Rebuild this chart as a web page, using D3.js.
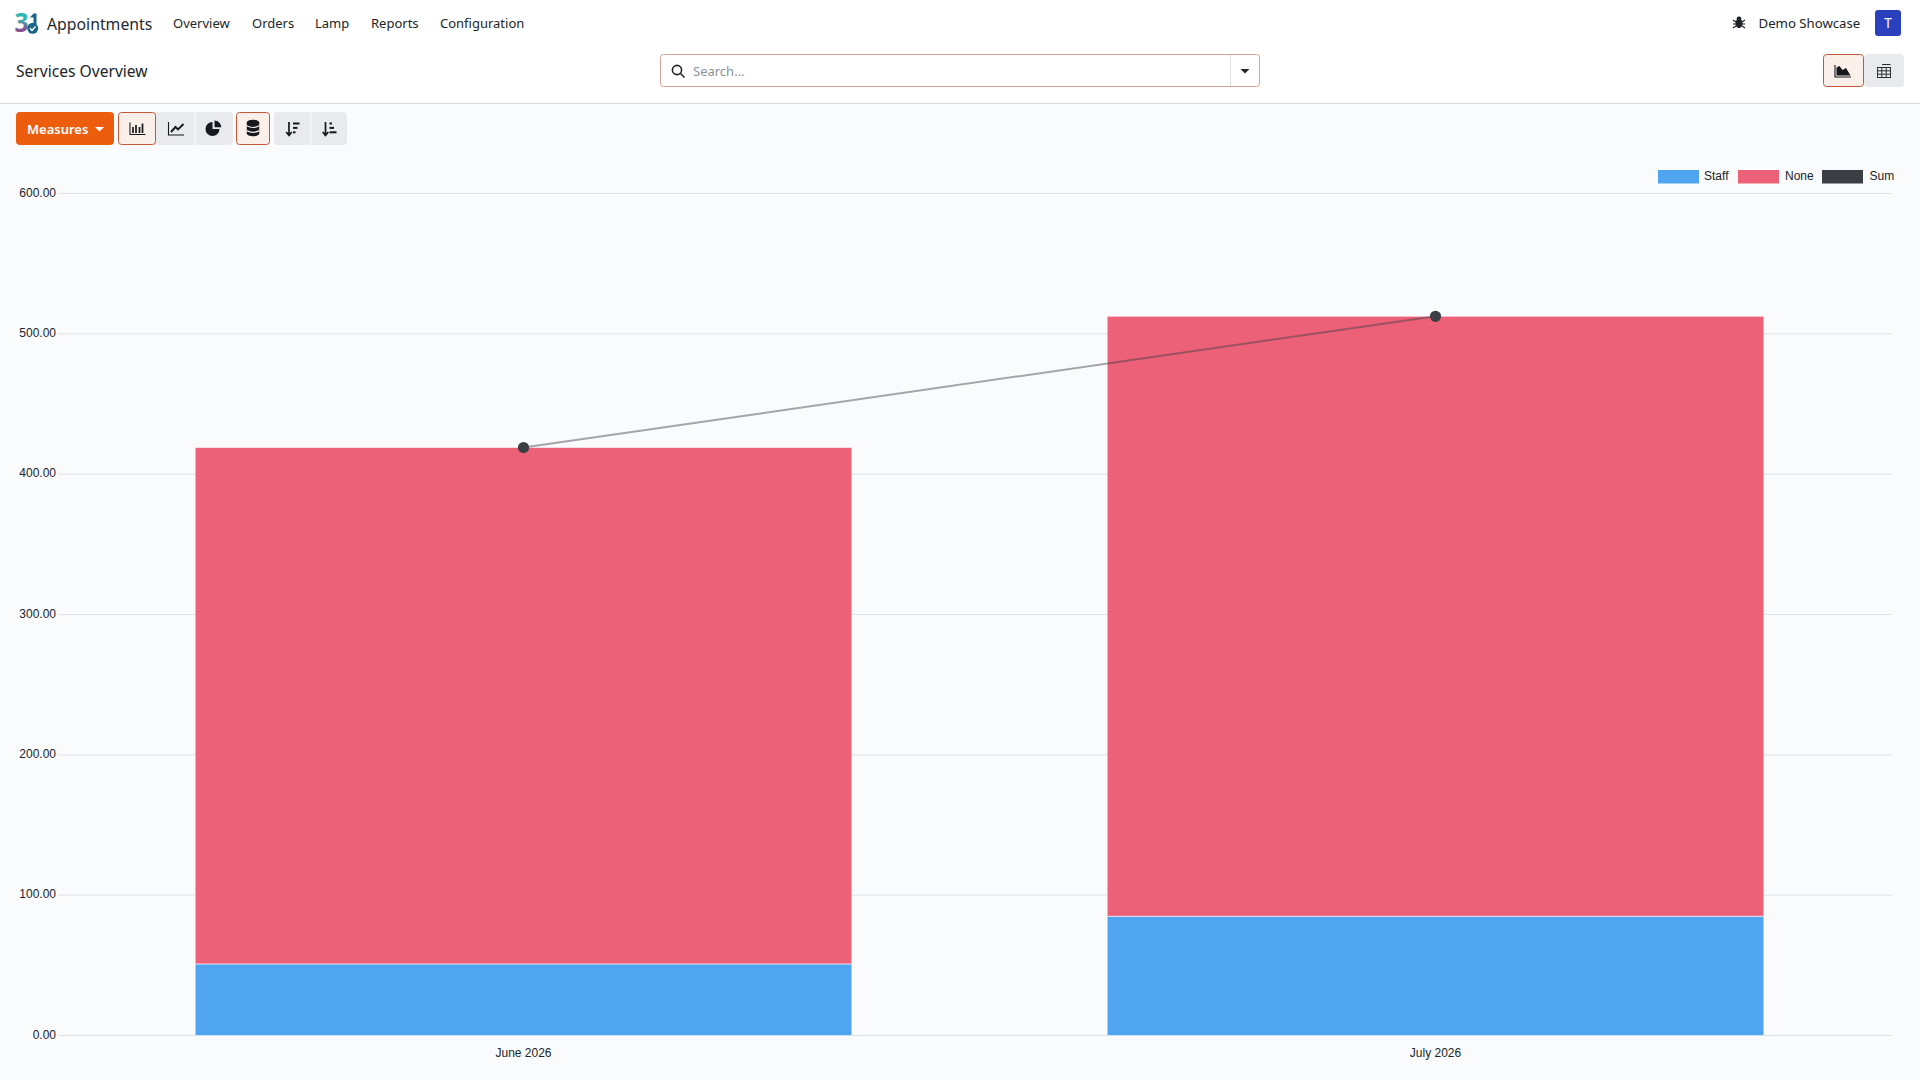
<!DOCTYPE html>
<html>
<head>
<meta charset="utf-8">
<title>Services Overview</title>
<script src="https://cdn.jsdelivr.net/npm/d3@7/dist/d3.min.js"></script>
<style>
  html, body { margin: 0; padding: 0; background: #fff; overflow: hidden; }
  svg { display: block; }
  text { font-family: "Noto Sans", sans-serif; }
  .chart text { font-family: "Liberation Sans", Arial, sans-serif; font-size: 12px; fill: #212529; }
</style>
</head>
<body>
<svg id="page" width="1920" height="1080"></svg>
<script>
// Monthly service totals, stacked by group, with the sum drawn as a line
const months = ["June 2026", "July 2026"];
const staffValues = [51, 85];
const noneValues = [368, 427.5];
const sumValues = [419, 512.5];
const yTicks = [0, 100, 200, 300, 400, 500, 600];
const legendLabels = ["Staff", "None", "Sum"];
const navLabels = ["Overview", "Orders", "Lamp", "Reports", "Configuration"];

const colors = { Staff: "#4fa5f0", None: "#ed6178", Sum: "#3a3f45" };
const svg = d3.select("#page");

// ---- page chrome -------------------------------------------------------
svg.append("rect").attr("width", 1920).attr("height", 1080).attr("fill", "#fff");
svg.append("rect").attr("y", 103).attr("width", 1920).attr("height", 977).attr("fill", "#fafbfd");
svg.append("line").attr("x1", 0).attr("x2", 1920).attr("y1", 103.5).attr("y2", 103.5).attr("stroke", "#d8dadd");

const defs = svg.append("defs");
const grad = defs.append("linearGradient").attr("id", "logo3").attr("x1", 0).attr("y1", 0).attr("x2", 0).attr("y2", 1);
grad.append("stop").attr("offset", "0.4").attr("stop-color", "#2fb9b3");
grad.append("stop").attr("offset", "0.72").attr("stop-color", "#8a4f8f");

// Brand mark
const logo = svg.append("g");
logo.append("text").attr("x", 14.5).attr("y", 32).attr("font-size", 26).attr("font-weight", 700)
  .attr("textLength", 14).attr("lengthAdjust", "spacingAndGlyphs")
  .attr("fill", "url(#logo3)").text("3");
logo.append("path").attr("d", "M30 17.5 L33.5 13.5 L36.5 13.5 L36.5 24 L33.5 24 L33.5 17.5 Z").attr("fill", "#17658a");
logo.append("circle").attr("cx", 32.7).attr("cy", 28.3).attr("r", 5.5).attr("fill", "#17658a");
logo.append("path").attr("d", "M30 28.3 L32 30.4 L35.5 26.6").attr("fill", "none").attr("stroke", "#fff").attr("stroke-width", 1.5);

svg.append("text").attr("x", 47).attr("y", 30).attr("font-size", 15.8).attr("fill", "#1f2933").text("Appointments");

const navX = [173, 252, 315, 371, 440];
svg.selectAll(".nav").data(navLabels).join("text").attr("class", "nav")
  .attr("x", (d, i) => navX[i]).attr("y", 28).attr("font-size", 13).attr("fill", "#212529").text(d => d);

svg.append("text").attr("x", 16).attr("y", 76.5).attr("font-size", 15.6).attr("fill", "#212529").text("Services Overview");

// Debug bug icon, user name and avatar
const bug = svg.append("g").attr("transform", "translate(1739,23)");
bug.append("ellipse").attr("rx", 3.6).attr("ry", 4.6).attr("cy", 0.5).attr("fill", "#1f2328");
bug.append("circle").attr("cy", -4.2).attr("r", 2.4).attr("fill", "#1f2328");
bug.append("path").attr("d", "M-6 -3 L-3 -1 M6 -3 L3 -1 M-6 1 L-3 1 M6 1 L3 1 M-6 5 L-3 3 M6 5 L3 3")
  .attr("stroke", "#1f2328").attr("stroke-width", 1.2);
svg.append("text").attr("x", 1758.5).attr("y", 28).attr("font-size", 13.2).attr("fill", "#212529").text("Demo Showcase");
svg.append("rect").attr("x", 1875).attr("y", 10).attr("width", 26).attr("height", 26).attr("rx", 3).attr("fill", "#2b40bd");
svg.append("text").attr("x", 1888).attr("y", 28).attr("text-anchor", "middle").attr("font-size", 13.5).attr("fill", "#fff").text("T");

// Search box
svg.append("rect").attr("x", 660.5).attr("y", 54.5).attr("width", 599).attr("height", 32).attr("rx", 3)
  .attr("fill", "#fff").attr("stroke", "#d3a394");
svg.append("line").attr("x1", 1230.5).attr("x2", 1230.5).attr("y1", 55).attr("y2", 86).attr("stroke", "#dee0e3");
const glass = svg.append("g").attr("fill", "none").attr("stroke", "#212529").attr("stroke-width", 1.6);
glass.append("circle").attr("cx", 677).attr("cy", 70).attr("r", 4.6);
glass.append("line").attr("x1", 680.5).attr("y1", 73.5).attr("x2", 684.5).attr("y2", 77.5);
svg.append("text").attr("x", 693).attr("y", 75.5).attr("font-size", 13).attr("fill", "#8b9199").text("Search...");
svg.append("path").attr("d", "M1240.5 69 L1249.5 69 L1245 73.5 Z").attr("fill", "#212529");

// Toolbar buttons; an active one gets the tinted fill and rust outline
function button(x, y, w, h, active) {
  svg.append("rect").attr("x", x + 0.5).attr("y", y + 0.5).attr("width", w - 1).attr("height", h - 1).attr("rx", 3)
    .attr("fill", active ? "#fbefe9" : "#e8eaee").attr("stroke", active ? "#c4593a" : "#e8eaee");
}
svg.append("rect").attr("x", 16).attr("y", 112).attr("width", 98).attr("height", 33).attr("rx", 4).attr("fill", "#ec5d0d");
svg.append("text").attr("x", 27).attr("y", 133.5).attr("font-size", 13).attr("font-weight", 600).attr("fill", "#fff").text("Measures");
svg.append("path").attr("d", "M95 127 L104 127 L99.5 131.5 Z").attr("fill", "#fff");

button(146, 112, 87, 33, false);
svg.append("line").attr("x1", 195).attr("x2", 195).attr("y1", 112).attr("y2", 145).attr("stroke", "#fafbfd");
button(118, 112, 38, 33, true);
button(236, 112, 34, 33, true);
button(274, 112, 73, 33, false);
svg.append("line").attr("x1", 311).attr("x2", 311).attr("y1", 112).attr("y2", 145).attr("stroke", "#fafbfd");

const ink = "#15181c";
// bar chart icon
svg.append("path").attr("d", "M130 122.5 v12 h15.5").attr("fill", "none").attr("stroke", ink).attr("stroke-width", 1.1);
svg.append("path").attr("d", "M133 127 v6 M136 125 v8 M139.5 127 v6 M142.5 123.5 v9.5")
  .attr("fill", "none").attr("stroke", ink).attr("stroke-width", 1.7);
// line chart icon
svg.append("path").attr("d", "M168.5 122 v13 h15.5").attr("fill", "none").attr("stroke", ink).attr("stroke-width", 1.1);
svg.append("path").attr("d", "M171 132 L175.5 127 L178 129.5 L183.5 124").attr("fill", "none").attr("stroke", ink).attr("stroke-width", 1.9);
// pie icon
svg.append("path").attr("d", "M212.5 122 a7 7 0 1 0 7 7 h-7 Z M214.5 120.5 a7 7 0 0 1 6.7 6.7 h-6.7 Z").attr("fill", ink);
// stack icon
svg.append("rect").attr("x", 246.8).attr("y", 122.5).attr("width", 12.4).attr("height", 11).attr("fill", ink);
[122.5, 133.5].forEach(cy => {
  svg.append("ellipse").attr("cx", 253).attr("cy", cy).attr("rx", 6.2).attr("ry", 2.8).attr("fill", ink);
});
svg.selectAll(".stackgap").data([125.8, 130.6]).join("path")
  .attr("d", d => `M246.8 ${d} q6.2 3.4 12.4 0`).attr("fill", "none").attr("stroke", "#fbefe9").attr("stroke-width", 1.2);
// sort icons
function sortIcon(x, widths) {
  svg.append("path").attr("d", `M${x} 122 v13 M${x - 2.8} 132 L${x} 135.5 L${x + 2.8} 132`)
    .attr("fill", "none").attr("stroke", ink).attr("stroke-width", 1.7);
  widths.forEach((w, i) => {
    svg.append("rect").attr("x", x + 4).attr("y", 122.5 + i * 4.4).attr("width", w).attr("height", 2).attr("fill", ink);
  });
}
sortIcon(289, [6.5, 4.5, 2.5]);
sortIcon(325.5, [2.5, 4.5, 7]);

// Graph / pivot view switch
button(1864, 54, 40, 33, false);
button(1823, 54, 41, 33, true);
svg.append("path").attr("d", "M1835 65 v12 h16").attr("fill", "none").attr("stroke", ink).attr("stroke-width", 1.1);
svg.append("path").attr("d", "M1836.5 75.5 V67.5 L1839.5 66 L1842.5 70 L1846 68 L1850.5 75.5 Z").attr("fill", ink);
const tbl = svg.append("g").attr("fill", "none").attr("stroke", "#2a2e33").attr("stroke-width", 1);
tbl.append("rect").attr("x", 1877.5).attr("y", 67.5).attr("width", 13).attr("height", 10);
tbl.append("path").attr("d", "M1877.5 70.8 h13 M1877.5 74.2 h13 M1881.8 67.5 v10 M1886.2 67.5 v10 M1882 64.5 h8.5");

// ---- chart -------------------------------------------------------------
const plot = { left: 67.5, right: 1891.5, top: 193.5, bottom: 1035.5 };
const chart = svg.append("g").attr("class", "chart");

const x = d3.scaleBand().domain(months).range([plot.left, plot.right]).paddingInner(0).paddingOuter(0);
const y = d3.scaleLinear().domain([0, 600]).range([plot.bottom, plot.top]);

// Grid lines run under the bars and reach back over the tick marks
chart.append("g").selectAll("line").data(yTicks).join("line")
  .attr("x1", plot.left - 9.5).attr("x2", plot.right + 0.5)
  .attr("y1", d => y(d)).attr("y2", d => y(d))
  .attr("stroke", "#dfe2e6").attr("stroke-width", 1);

const yAxis = d3.axisLeft(y).tickValues(yTicks).tickFormat(d3.format(".2f")).tickSize(0).tickPadding(11.5);
const yG = chart.append("g").attr("transform", `translate(${plot.left},0)`).call(yAxis);
yG.select(".domain").remove();
yG.selectAll("text").style("font-size", "12px").attr("dy", "0.22em");

const xAxis = d3.axisBottom(x).tickSize(0).tickPadding(13);
const xG = chart.append("g").attr("transform", `translate(0,${plot.bottom})`).call(xAxis);
xG.select(".domain").remove();
xG.selectAll("text").style("font-size", "12px");

// Stacked bars
const rows = months.map((m, i) => ({ month: m, Staff: staffValues[i], None: noneValues[i] }));
const stacked = d3.stack().keys(["Staff", "None"])(rows);
const barWidth = x.bandwidth() * 0.72;
chart.append("g").selectAll("g").data(stacked).join("g")
  .attr("fill", d => colors[d.key])
  .selectAll("rect").data(d => d).join("rect")
  .attr("x", d => x(d.data.month) + (x.bandwidth() - barWidth) / 2)
  .attr("width", barWidth)
  .attr("y", d => y(d[1]))
  .attr("height", d => y(d[0]) - y(d[1]))
  .attr("stroke", "#fff").attr("stroke-opacity", 0.55).attr("stroke-width", 1);

// Sum line over the bars
const sumLine = d3.line().x((d, i) => x(months[i]) + x.bandwidth() / 2).y(d => y(d));
chart.append("path").attr("d", sumLine(sumValues)).attr("fill", "none")
  .attr("stroke", colors.Sum).attr("stroke-opacity", 0.45).attr("stroke-width", 2);
chart.append("g").selectAll("circle").data(sumValues).join("circle")
  .attr("cx", (d, i) => x(months[i]) + x.bandwidth() / 2)
  .attr("cy", d => y(d)).attr("r", 5.6).attr("fill", colors.Sum);

// Legend
const legendX = [1658, 1738, 1822];
const legendText = [1704, 1785, 1869.5];
chart.append("g").selectAll("rect").data(legendLabels).join("rect")
  .attr("x", (d, i) => legendX[i]).attr("y", 170).attr("width", 41).attr("height", 13.5)
  .attr("fill", d => colors[d]);
chart.append("g").selectAll("text").data(legendLabels).join("text")
  .attr("x", (d, i) => legendText[i]).attr("y", 180).text(d => d);
</script>
</body>
</html>
